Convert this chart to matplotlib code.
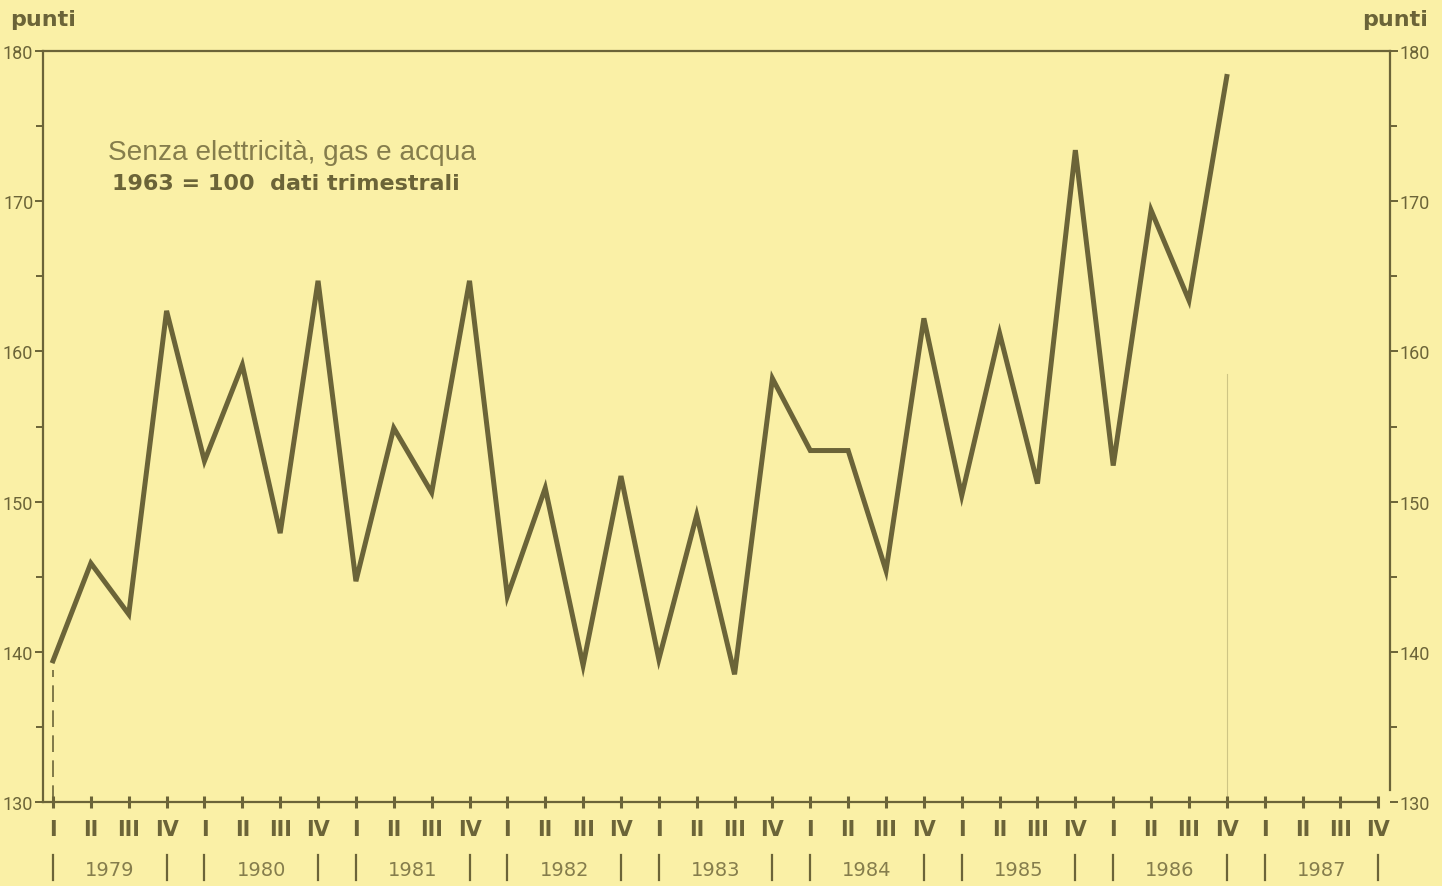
import numpy as np
import matplotlib
matplotlib.use("Agg")
import matplotlib.pyplot as plt
import matplotlib.transforms as mtransforms

# quarterly index values, 1979 I .. 1986 IV
years = ["1979", "1980", "1981", "1982", "1983", "1984", "1985", "1986", "1987"]
quarters = ["I", "II", "III", "IV"]
values = [139.4, 145.9, 142.5, 162.7,
          152.7, 159.1, 147.9, 164.7,
          144.7, 154.9, 150.6, 164.7,
          143.7, 150.9, 139.1, 151.7,
          139.5, 149.1, 138.5, 158.2,
          153.4, 153.4, 145.4, 162.2,
          150.4, 161.2, 151.2, 173.4,
          152.4, 169.4, 163.4, 178.3]
yticks = [130, 140, 150, 160, 170, 180]

bg = "#faf0a6"
ink = "#6b6438"
light = "#857d4c"
narrow = ["Roboto", "DejaVu Sans"]

fig = plt.figure(figsize=(14.42, 8.87), dpi=100, facecolor=bg)
ax = fig.add_axes([43 / 1442, 84 / 887, 1347 / 1442, 751 / 887])
ax.set_facecolor(bg)

n_q = len(years) * 4
x = np.arange(len(values))
ax.plot(x, values, color=ink, lw=3.6, solid_joinstyle="miter", zorder=3)

# dashed start marker and faint end line
ax.plot([0, 0], [130, values[0] - 0.6], color=ink, lw=1.2, ls=(0, (10, 5)), zorder=2)
ax.plot([len(values) - 1] * 2, [130, 158.5], color=ink, lw=0.8, alpha=0.3, zorder=2)

ax.set_xlim(-0.264, 35.31)
ax.set_ylim(130, 180)

for s in ax.spines.values():
    s.set_color(ink)
    s.set_linewidth(1.6)
ax.spines["bottom"].set_bounds(-0.264, n_q - 1)
ax.spines["right"].set_bounds(130.8, 180)

ax.set_yticks(yticks)
ax.set_yticks(np.arange(135, 180, 10), minor=True)
ax.tick_params(axis="y", which="both", direction="out", length=6, width=1.4,
               color=ink, labelcolor=ink, labelsize=13, pad=1,
               left=True, right=True, labelleft=True, labelright=True)
ax.tick_params(axis="y", which="minor", length=5)
for lab in ax.get_yticklabels():
    lab.set_family(narrow)

ax.set_xticks(np.arange(n_q))
ax.tick_params(axis="x", direction="inout", length=8, width=2.2, color=ink,
               labelbottom=False)

# quarter and year labels below the axis
trans = mtransforms.blended_transform_factory(ax.transData, ax.transAxes)
for i in range(n_q):
    ax.text(i, -0.036, quarters[i % 4], transform=trans, ha="center", va="center",
            fontsize=15, fontweight="bold", color=ink, clip_on=False)
for k, yr in enumerate(years):
    a, b = 4 * k, 4 * k + 3
    ax.text((a + b) / 2, -0.09, yr, transform=trans, ha="center", va="center",
            fontsize=14, color=light, clip_on=False)
    for xs in (a, b):
        ax.plot([xs, xs], [-0.104, -0.07], transform=trans, color=ink, lw=1.6,
                clip_on=False)

# header and annotation
fig.text(10 / 1442, 1 - 20 / 887, "punti", fontsize=16, fontweight="bold",
         color=ink, va="center", ha="left")
fig.text(1428 / 1442, 1 - 20 / 887, "punti", fontsize=16, fontweight="bold",
         color=ink, va="center", ha="right")
ax.text(1.45, 173.3, "Senza elettricità, gas e acqua", fontsize=20.2,
        color=light, family=["Liberation Sans", "DejaVu Sans"], va="center")
ax.text(1.55, 171.2, "1963 = 100  dati trimestrali", fontsize=16,
        fontweight="bold", color=ink, va="center")

fig.savefig("out.png", dpi=100, facecolor=bg)
